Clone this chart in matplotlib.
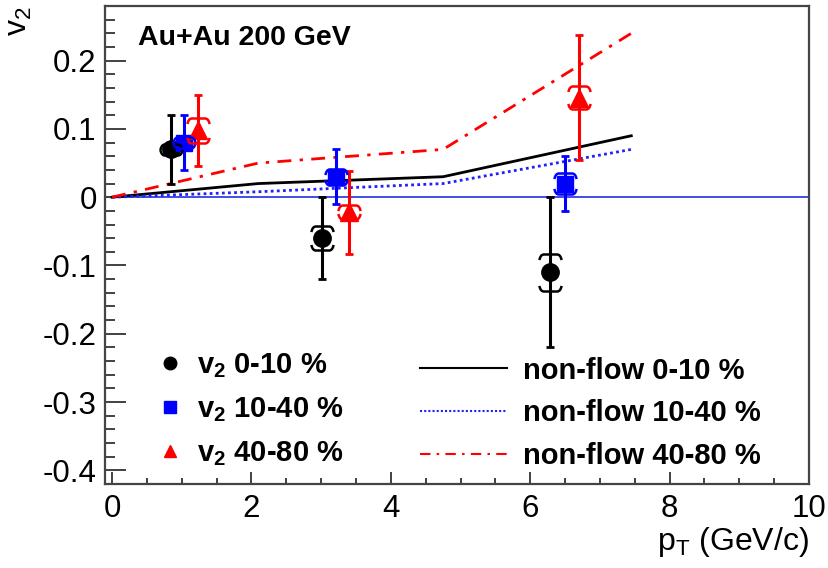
import matplotlib
matplotlib.use("Agg")
import matplotlib.pyplot as plt
import numpy as np
from matplotlib.path import Path
from matplotlib.lines import Line2D
from matplotlib.ticker import MultipleLocator, FormatStrFormatter

plt.rcParams['font.family'] = ['Liberation Sans', 'DejaVu Sans']
plt.rcParams['mathtext.default'] = 'regular'
plt.rcParams['axes.unicode_minus'] = False

# v2 measurements (stat errors as bars, sys errors as brackets)
pt_0_10 = [0.84, 3.01, 6.29]
v2_0_10 = [0.07, -0.06, -0.11]
stat_0_10 = [0.05, 0.06, 0.11]
sys_0_10 = [0.008, 0.018, 0.027]

pt_10_40 = [1.04, 3.21, 6.50]
v2_10_40 = [0.08, 0.03, 0.02]
stat_10_40 = [0.04, 0.04, 0.04]
sys_10_40 = [0.008, 0.012, 0.016]

pt_40_80 = [1.24, 3.40, 6.70]
v2_40_80 = [0.098, -0.022, 0.146]
stat_40_80 = [0.052, 0.061, 0.092]
sys_40_80 = [0.018, 0.01, 0.017]

# non-flow estimates
pt_nf = [0, 2.1, 4.75, 7.45]
nf_0_10 = [0, 0.02, 0.03, 0.09]
nf_10_40 = [0, 0.008, 0.02, 0.07]
nf_40_80 = [0, 0.05, 0.07, 0.24]

# bracket markers for systematic errors
top_br = Path([(-1, -0.5), (-0.9, 0), (-0.6, 0), (0.6, 0), (0.9, 0), (1, -0.5)],
              [Path.MOVETO, Path.CURVE3, Path.CURVE3, Path.LINETO, Path.CURVE3, Path.CURVE3])
bot_br = Path([(-1, 0.5), (-0.9, 0), (-0.6, 0), (0.6, 0), (0.9, 0), (1, 0.5)],
              [Path.MOVETO, Path.CURVE3, Path.CURVE3, Path.LINETO, Path.CURVE3, Path.CURVE3])

fig = plt.figure(figsize=(8.29, 5.68), dpi=100)
ax = fig.add_axes([0.1267, 0.1479, 0.8492, 0.8415])

ax.hlines(0, 0, 10, color='#2030e0', lw=1.2, zorder=1)

ax.plot(pt_nf, nf_0_10, color='black', lw=2, zorder=2)
ax.plot(pt_nf, nf_10_40, color='#2020ff', lw=2, ls=(0, (1, 1.2)), zorder=2)
ax.plot(pt_nf, nf_40_80, color='red', lw=2, ls=(0, (5, 3, 1.2, 3)), zorder=2)

series = [
    (pt_0_10, v2_0_10, stat_0_10, sys_0_10, 'black', 'o', 12.5),
    (pt_10_40, v2_10_40, stat_10_40, sys_10_40, '#0000ff', 's', 11.5),
    (pt_40_80, v2_40_80, stat_40_80, sys_40_80, 'red', '^', 12.5),
]
for x, y, e, s, c, m, ms in series:
    x = np.array(x); y = np.array(y); s = np.array(s)
    ax.errorbar(x, y, yerr=e, fmt=m, color=c, ms=ms, elinewidth=2.2,
                capsize=3, capthick=2, zorder=4)
    ax.plot(x, y + s, ls='none', marker=top_br, ms=16, mew=1.8,
            mec=c, mfc='none', zorder=5)
    ax.plot(x, y - s, ls='none', marker=bot_br, ms=16, mew=1.8,
            mec=c, mfc='none', zorder=5)

ax.set_xlim(-0.1, 10)
ax.set_ylim(-0.42, 0.28)

ax.xaxis.set_major_locator(MultipleLocator(2))
ax.xaxis.set_minor_locator(MultipleLocator(0.5))
ax.yaxis.set_major_locator(MultipleLocator(0.1))
ax.yaxis.set_minor_locator(MultipleLocator(0.02))
ax.yaxis.set_major_formatter(FormatStrFormatter('%g'))
ax.xaxis.set_major_formatter(FormatStrFormatter('%g'))
ax.tick_params(axis='both', which='both', direction='in', top=False, right=False,
               width=1.3, color='#333333', labelsize=22.5)
ax.tick_params(axis='y', which='major', length=15, pad=6)
ax.tick_params(axis='y', which='minor', length=7.5)
ax.tick_params(axis='x', which='major', length=9, pad=7)
ax.tick_params(axis='x', which='minor', length=4.5)
for sp in ax.spines.values():
    sp.set_linewidth(1.6)
    sp.set_color('#444444')

ax.set_xlabel('p$_{T}$ (GeV/c)', fontsize=23, loc='right', labelpad=1)
ax.set_ylabel('v$_2$', fontsize=23, loc='top', labelpad=6)

ax.text(0.047, 0.933, 'Au+Au 200 GeV', transform=ax.transAxes, fontsize=20.5,
        fontweight='bold', va='center', ha='left')

h_pts = [Line2D([], [], ls='none', marker='o', color='black', ms=9),
         Line2D([], [], ls='none', marker='s', color='#0000ff', ms=8),
         Line2D([], [], ls='none', marker='^', color='red', ms=9)]
lab_pts = ['v$_2$ 0-10 %', 'v$_2$ 10-40 %', 'v$_2$ 40-80 %']
leg1 = ax.legend(h_pts, lab_pts, loc='center left', bbox_to_anchor=(0.072, 0.155),
                 frameon=False, prop={'weight': 'bold', 'size': 21},
                 handlelength=1.0, handletextpad=0.4, labelspacing=0.52,
                 borderpad=0, borderaxespad=0)
ax.add_artist(leg1)

h_nf = [Line2D([], [], color='black', lw=1.5),
        Line2D([], [], color='#2020ff', lw=1.5, ls=(0, (1, 1))),
        Line2D([], [], color='red', lw=1.5, ls=(0, (5, 3, 1.2, 3)))]
lab_nf = ['non-flow 0-10 %', 'non-flow 10-40 %', 'non-flow 40-80 %']
ax.legend(h_nf, lab_nf, loc='center left', bbox_to_anchor=(0.447, 0.148),
          frameon=False, prop={'weight': 'bold', 'size': 21},
          handlelength=3.0, handletextpad=0.55, labelspacing=0.5,
          borderpad=0, borderaxespad=0)

fig.savefig('out.png', dpi=100)
